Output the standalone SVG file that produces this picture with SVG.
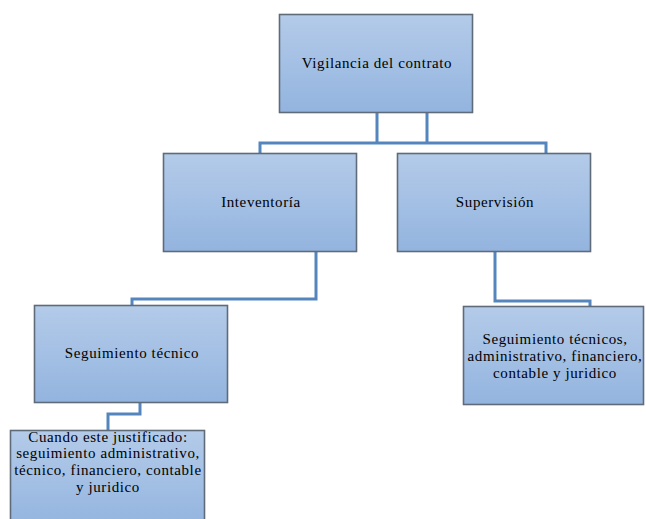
<svg xmlns="http://www.w3.org/2000/svg" width="646" height="519" viewBox="0 0 646 519">
<defs>
<linearGradient id="g" x1="0" y1="0" x2="0" y2="1">
<stop offset="0" stop-color="#b4cbe9"/>
<stop offset="1" stop-color="#93b4df"/>
</linearGradient>
<style>
.box{fill:url(#g);stroke:#5f6b78;stroke-width:1.6}
.t{font-family:"Liberation Serif","DejaVu Serif","Times New Roman",serif;font-size:15px;letter-spacing:0.6px;fill:#000;text-anchor:middle}
.c{fill:none;stroke:#5585bd;stroke-width:3}
</style>
</defs>
<rect width="646" height="519" fill="#fff"/>
<g id="connectors">
<path class="c" d="M377,112 V143 M427,112 V143 M260,153 V143 H546 V153"/>
<path class="c" d="M316,251 V299 H132 V305"/>
<path class="c" d="M495,251 V301 H590 V306"/>
<path class="c" d="M140,403 V414 H108 V431"/>
</g>
<g id="vigilancia">
<rect class="box" x="279.5" y="14.5" width="193" height="98"/>
<text class="t" x="377" y="68">Vigilancia del contrato</text>
</g>
<g id="inteventoria">
<rect class="box" x="163.5" y="153.5" width="193" height="98"/>
<text class="t" x="261" y="207">Inteventoría</text>
</g>
<g id="supervision">
<rect class="box" x="397.5" y="153.5" width="193" height="98"/>
<text class="t" x="495" y="207">Supervisión</text>
</g>
<g id="seguimiento-tecnico">
<rect class="box" x="34.5" y="305.5" width="193" height="97"/>
<text class="t" x="132" y="358">Seguimiento técnico</text>
</g>
<g id="seguimiento-tecnicos">
<rect class="box" x="463.5" y="306.5" width="180" height="98"/>
<text class="t" x="555" y="344">Seguimiento técnicos,</text>
<text class="t" x="555" y="361">administrativo, financiero,</text>
<text class="t" x="555" y="378">contable y juridico</text>
</g>
<g id="cuando">
<rect class="box" x="10.5" y="430.5" width="194" height="98"/>
<text class="t" x="108" y="442">Cuando este justificado:</text>
<text class="t" x="108" y="458">seguimiento administrativo,</text>
<text class="t" x="108" y="475">técnico, financiero, contable</text>
<text class="t" x="108" y="492">y juridico</text>
</g>
</svg>
